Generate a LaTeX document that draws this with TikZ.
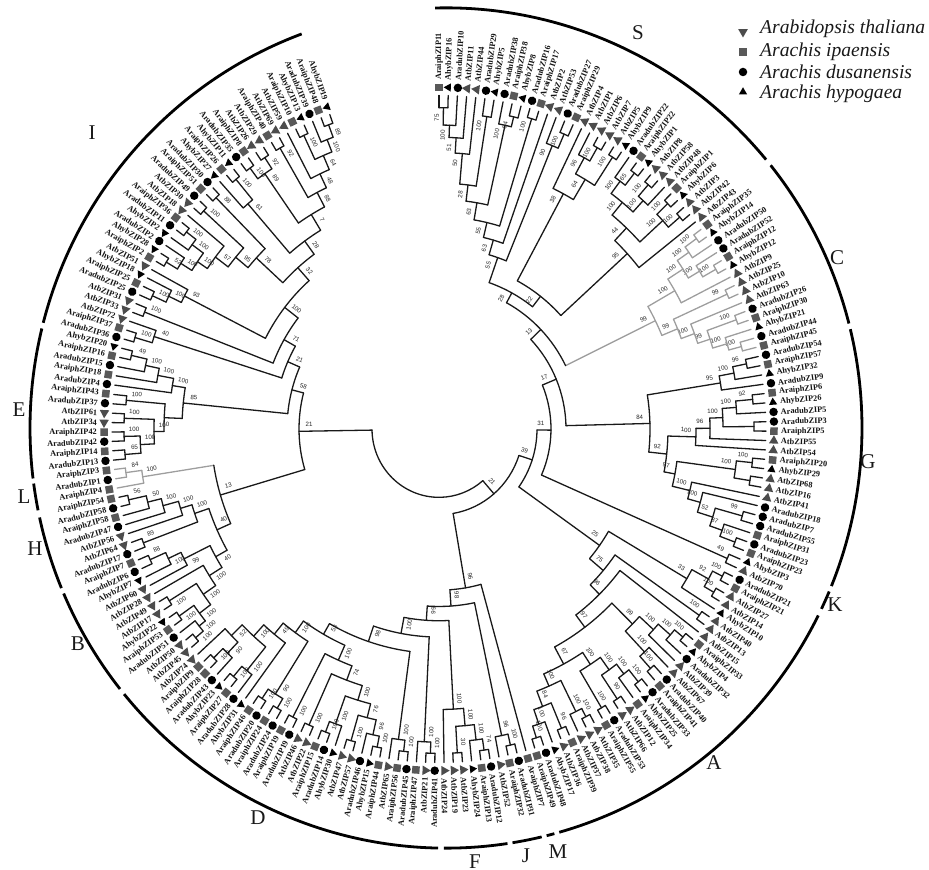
\documentclass[tikz,border=0pt]{standalone}
\usepackage{fontspec}
\setmainfont{Liberation Serif}
\newfontfamily\supfont{Liberation Sans}
\usetikzlibrary{shapes.geometric}

\tikzset{
    treeline/.style={draw=black!90,line width=1.3pt,line cap=round},
    grayline/.style={draw=black!38,line width=1.3pt,line cap=round},
    clbar/.style={draw=black,line width=2.8pt},
    mks/.style={rectangle,fill=black!65,minimum size=7.5pt,inner sep=0pt},
    mkc/.style={circle,fill=black,minimum size=8.5pt,inner sep=0pt},
    mkv/.style={regular polygon,regular polygon sides=3,fill=black!70,minimum size=11pt,inner sep=0pt},
    mkt/.style={regular polygon,regular polygon sides=3,fill=black,minimum size=9.5pt,inner sep=0pt},
    leaftxt/.style={inner sep=0pt,text=black!92,font=\fontsize{8.3}{9}\selectfont\bfseries},
    suptxt/.style={inner sep=0pt,text=black!85,font=\supfont\fontsize{6.2}{7}\selectfont},
    cltxt/.style={inner sep=0pt,text=black!90,font=\fontsize{21}{22}\selectfont},
    legtxt/.style={inner sep=0pt,anchor=west,text=black!90,font=\fontsize{19.6}{21}\selectfont\itshape}
}

\newcommand{\clade}[6][treeline]{%
    \pgfmathsetmacro{\angA}{\csname ang#3\endcsname}%
    \pgfmathsetmacro{\angB}{\csname ang#4\endcsname}%
    \pgfmathsetmacro{\angM}{(\angA+\angB)/2}%
    \expandafter\xdef\csname ang#2\endcsname{\angM}%
    \expandafter\xdef\csname sty#2\endcsname{#1}%
    \coordinate (l#2) at (\angM:#5);
    \ifcsname sty#3\endcsname\edef\styA{\csname sty#3\endcsname}\else\def\styA{#1}\fi
    \ifcsname sty#4\endcsname\edef\styB{\csname sty#4\endcsname}\else\def\styB{#1}\fi
    \expandafter\draw\expandafter[\styA] (l#3) -- (\angA:#5);
    \expandafter\draw\expandafter[\styB] (l#4) -- (\angB:#5);
    \draw[#1] (\angA:#5) arc[start angle=\angA,end angle=\angB,radius=#5pt];
    \def\suptest{#6}%
    \ifx\suptest\empty\else
        \ifdim\angM pt<-155pt
            \pgfmathsetmacro{\angL}{\angM-6.5/(#5-10)*57.3}%
        \else
            \pgfmathsetmacro{\angL}{\angM+6.5/(#5-10)*57.3}%
        \fi
        \ifdim\angM pt<-90pt
            \pgfmathsetmacro{\angR}{\angM+180}%
        \else
            \pgfmathsetmacro{\angR}{\angM}%
        \fi
        \node[suptxt,rotate=\angR] (s#2) at (\angL:#5-10) {#6};
    \fi
}

\begin{document}
\begin{tikzpicture}[x=1pt,y=1pt]
    \useasboundingbox (0,0) rectangle (929,870);

    \begin{scope}[shift={(446,442)},yscale=1.01]
        \foreach \st/\en in {91.5/39.7,38.7/14.4,13.6/-22.1,-22.9/-25.5,-26.5/-74.2,-74.9/-76,-76.7/-80.8,-81.5/-90.3,-91.1/-140.7,-141.6/-156.8,-157.6/-167.7,-168.7/-172.4,-173.1/-193.7,-194.5/-249.7}{
            \draw[clbar] (\st:416) arc[start angle=\st,end angle=\en,radius=416pt];
        }
    \end{scope}

    \foreach \nm/\x/\y in {S/638/837,C/837/612,G/868/408,K/835/265,A/714/107,M/558/18,J/526/14,F/475/8,D/258/52,B/78/226,H/35/321,L/24/373,E/19/460,I/92/737}{
        \node[cltxt] (cl\nm) at (\x,\y) {\nm};
    }

    \node[mkv,rotate=180] (legv) at (743,838) {};
    \node[mks] (legs) at (743,818) {};
    \node[mkc] (legc) at (743,798) {};
    \node[mkt] (legt) at (743,778) {};
    \node[legtxt] (legva) at (760,841) {Arabidopsis thaliana};
    \node[legtxt] (legsa) at (760,818) {Arachis ipaensis};
    \node[legtxt] (legca) at (760,798) {Arachis dusanensis};
    \node[legtxt] (legta) at (760,776) {Arachis hypogaea};

    \begin{scope}[shift={(439,441)},yscale=1.02]
        \foreach \nm/\kd [count=\i] in {AraiphZIP11/s,AhybZIP16/t,AradubZIP10/c,AtbZIP11/v,AtbZIP44/v,AradubZIP29/c,AhybZIP5/t,AradubZIP38/c,AraiphZIP38/s,AhybZIP8/t,
            AradubZIP16/c,AraiphZIP17/s,AtbZIP2/v,AtbZIP53/v,AradubZIP27/c,AraiphZIP29/s,AtbZIP4/v,AtbZIP1/v,AtbZIP6/v,AtbZIP7/v,
            AtbZIP5/v,AhybZIP9/t,AradubZIP22/c,AraiphZIP22/s,AhybZIP1/t,AtbZIP8/v,AtbZIP58/v,AtbZIP48/v,AraiphZIP1/s,AhybZIP6/t,
            AtbZIP3/v,AtbZIP42/v,AtbZIP43/v,AraiphZIP35/s,AhybZIP14/t,AradubZIP50/c,AradubZIP52/c,AraiphZIP12/s,AhybZIP12/t,AtbZIP9/v,
            AtbZIP25/v,AtbZIP10/v,AtbZIP63/v,AradubZIP26/c,AraiphZIP30/s,AhybZIP21/t,AradubZIP44/c,AraiphZIP45/s,AradubZIP54/c,AraiphZIP57/s,
            AhybZIP32/t,AradubZIP9/c,AraiphZIP6/s,AhybZIP26/t,AradubZIP5/c,AradubZIP3/c,AraiphZIP5/s,AtbZIP55/v,AtbZIP54/v,AraiphZIP20/s,
            AhybZIP29/t,AtbZIP68/v,AtbZIP16/v,AtbZIP41/v,AradubZIP18/c,AradubZIP7/c,AradubZIP55/c,AraiphZIP31/s,AradubZIP23/c,AraiphZIP23/s,
            AhybZIP3/t,AtbZIP70/v,AradubZIP21/c,AraiphZIP21/s,AtbZIP27/v,AtbZIP14/v,AhybZIP10/t,AtbZIP40/v,AtbZIP13/v,AtbZIP15/v,
            AraiphZIP33/s,AhybZIP4/t,AradubZIP32/c,AtbZIP39/v,AtbZIP67/v,AradubZIP40/c,AraiphZIP41/s,AradubZIP33/c,AhybZIP25/t,AraiphZIP34/s,
            AtbZIP12/v,AtbZIP66/v,AradubZIP53/c,AraiphZIP55/s,AtbZIP35/v,AtbZIP38/v,AtbZIP37/v,AraiphZIP39/s,AtbZIP36/v,AhybZIP17/t,
            AradubZIP48/c,AraiphZIP49/s,AraiphZIP7/s,AradubZIP31/c,AraiphZIP32/s,AtbZIP52/v,AradubZIP12/c,AraiphZIP13/s,AhybZIP24/t,AtbZIP23/v,
            AtbZIP19/v,AtbZIP24/v,AradubZIP41/c,AtbZIP21/v,AraiphZIP47/s,AradubZIP45/c,AraiphZIP56/s,AtbZIP65/v,AraiphZIP44/s,AhybZIP15/t,
            AradubZIP46/c,AtbZIP57/v,AtbZIP47/v,AhybZIP30/t,AradubZIP14/c,AraiphZIP15/s,AtbZIP22/v,AtbZIP46/v,AradubZIP19/c,AraiphZIP19/s,
            AradubZIP24/c,AraiphZIP24/s,AradubZIP20/c,AraiphZIP46/s,AhybZIP31/t,AradubZIP28/c,AraiphZIP27/s,AhybZIP23/t,AradubZIP43/c,AraiphZIP28/s,
            AraiphZIP9/s,AtbZIP74/v,AtbZIP45/v,AtbZIP50/v,AradubZIP51/c,AraiphZIP53/s,AhybZIP22/t,AtbZIP17/v,AtbZIP49/v,AtbZIP28/v,
            AtbZIP60/v,AhybZIP7/t,AradubZIP6/c,AraiphZIP7/s,AradubZIP17/c,AtbZIP64/v,AtbZIP56/v,AradubZIP47/c,AraiphZIP58/s,AradubZIP58/c,
            AraiphZIP54/s,AraiphZIP4/s,AradubZIP1/c,AraiphZIP3/s,AradubZIP13/c,AraiphZIP14/s,AradubZIP42/c,AraiphZIP42/s,AtbZIP34/v,AtbZIP61/v,
            AradubZIP37/c,AraiphZIP43/s,AradubZIP4/c,AraiphZIP18/s,AradubZIP15/c,AraiphZIP16/s,AhybZIP20/t,AradubZIP36/c,AraiphZIP37/s,AtbZIP72/v,
            AtbZIP33/v,AtbZIP31/v,AradubZIP25/c,AraiphZIP25/s,AhybZIP18/t,AtbZIP51/v,AraiphZIP2/s,AhybZIP28/t,AradubZIP2/c,AhybZIP2/t,
            AradubZIP11/c,AraiphZIP36/s,AtbZIP18/v,AtbZIP30/v,AradubZIP49/c,AraiphZIP51/s,AradubZIP30/c,AhybZIP27/t,AraiphZIP26/s,AhybZIP11/t,
            AradubZIP35/c,AraiphZIP8/s,AtbZIP26/v,AtbZIP29/v,AraiphZIP40/s,AtbZIP69/v,AtbZIP59/v,AraiphZIP10/s,AhybZIP13/t,AradubZIP39/c,
            AraiphZIP48/s,AhybZIP19/t}{
            \pgfmathsetmacro{\ang}{90-1.6137*(\i-1)}
            \expandafter\xdef\csname ang\i\endcsname{\ang}
            \coordinate (l\i) at (\ang:327);
            \node[mk\kd,rotate=\ang] (m\i) at (\ang:335) {};
            \ifdim\ang pt<-90pt
                \pgfmathsetmacro{\angT}{\ang+180}
                \node[leaftxt,rotate=\angT,anchor=east] (t\i) at (\ang:342) {\nm};
            \else
                \node[leaftxt,rotate=\ang,anchor=west] (t\i) at (\ang:342) {\nm};
            \fi
        }

        \clade{sa}{1}{2}{315}{75}
        \clade{sb}{sa}{3}{298}{100}
        \clade{sc}{sb}{4}{286}{51}
        \clade{sd}{sc}{5}{271}{50}
        \clade{se}{6}{7}{310}{100}
        \clade{sf}{sd}{se}{241}{28}
        \clade{sg}{9}{10}{315}{64}
        \clade{sh}{8}{sg}{305}{100}
        \clade{si}{sf}{sh}{225}{63}
        \clade{sj}{11}{12}{318}{100}
        \clade{sk}{si}{sj}{208}{55}
        \clade{sl}{sk}{13}{193}{63}
        \clade{sm}{15}{16}{315}{100}
        \clade{sn}{14}{sm}{300}{90}
        \clade{so}{sl}{sn}{178}{55}
        \clade{sp}{19}{20}{318}{100}
        \clade{sq}{18}{sp}{303}{96}
        \clade{sr}{21}{22}{318}{100}
        \clade{ss}{sq}{sr}{285}{64}
        \clade{st}{17}{ss}{262}{38}
        \clade{su}{24}{25}{318}{65}
        \clade{sv}{23}{su}{303}{100}
        \clade{sw}{26}{27}{318}{100}
        \clade{sx}{sw}{28}{303}{100}
        \clade{sy}{sv}{sx}{288}{100}
        \clade{sz}{29}{30}{318}{100}
        \clade{ta}{31}{32}{318}{100}
        \clade{tb}{sz}{ta}{303}{100}
        \clade{tc}{sy}{tb}{272}{44}
        \clade{td}{tc}{33}{255}{95}
        \clade{te}{st}{td}{165}{22}
        \clade{tf}{so}{te}{152}{28}

        \clade[grayline]{ca}{34}{35}{318}{100}
        \clade[grayline]{cb}{ca}{36}{304}{100}
        \clade[grayline]{cc}{38}{39}{318}{100}
        \clade[grayline]{cd}{37}{cc}{303}{100}
        \clade[grayline]{ce}{cb}{cd}{290}{100}
        \clade[grayline]{cf}{ce}{40}{272}{100}
        \clade[grayline]{cg}{41}{42}{317}{99}
        \clade[grayline]{ch}{44}{45}{316}{100}
        \clade[grayline]{ci}{47}{48}{313}{100}
        \clade[grayline]{cj}{46}{ci}{300}{100}
        \clade[grayline]{ck}{ch}{cj}{285}{99}
        \clade[grayline]{cl}{43}{ck}{272}{100}
        \clade[grayline]{cm}{cg}{cl}{258}{99}
        \clade[grayline]{cn}{cf}{cm}{241}{99}
        \clade{ra}{tf}{cn}{141}{13}

        \clade{ga}{49}{50}{314}{96}
        \clade{gb}{ga}{51}{300}{100}
        \clade{gc}{gb}{52}{285}{95}
        \clade{gd}{53}{54}{315}{92}
        \clade{ge}{gd}{55}{298}{100}
        \clade{gf}{56}{57}{315}{}
        \clade{gg}{ge}{gf}{284}{100}
        \clade{gh}{gg}{58}{271}{96}
        \clade{gi}{gh}{59}{257}{100}
        \clade{gj}{60}{61}{315}{100}
        \clade{gk}{62}{63}{315}{}
        \clade{gl}{gj}{gk}{299}{100}
        \clade{gm}{66}{67}{315}{99}
        \clade{gn}{69}{70}{316}{100}
        \clade{go}{68}{gn}{300}{87}
        \clade{gp}{gm}{go}{287}{52}
        \clade{gq}{65}{gp}{271}{100}
        \clade{gr}{64}{gq}{258}{100}
        \clade{gs}{gl}{gr}{240}{97}
        \clade{gt}{gi}{gs}{229}{92}
        \clade{gu}{gc}{gt}{211}{84}
        \clade{rb}{ra}{gu}{127}{17}

        \clade{ka}{71}{72}{315}{49}
        \clade{rc}{rb}{ka}{112}{31}

        \clade{aa}{73}{74}{318}{100}
        \clade{ab}{75}{76}{318}{100}
        \clade{ac}{aa}{ab}{307}{92}
        \clade{ad}{ac}{77}{288}{33}
        \clade{ae}{78}{79}{318}{100}
        \clade{af}{81}{82}{318}{100}
        \clade{ag}{af}{83}{307}{100}
        \clade{ah}{ag}{84}{291}{100}
        \clade{ai}{86}{87}{316}{100}
        \clade{aj}{85}{ai}{300}{100}
        \clade{ak}{ah}{aj}{272}{99}
        \clade{al}{88}{89}{318}{100}
        \clade{am}{al}{90}{303}{100}
        \clade{an}{91}{92}{319}{90}
        \clade{ao}{am}{an}{291}{100}
        \clade{ap}{93}{94}{318}{100}
        \clade{aq}{ao}{ap}{276}{100}
        \clade{ar}{95}{96}{318}{100}
        \clade{as}{ar}{97}{309}{100}
        \clade{at}{98}{99}{318}{96}
        \clade{au}{101}{102}{318}{100}
        \clade{av}{100}{au}{306}{100}
        \clade{aw}{at}{av}{291}{84}
        \clade{ax}{as}{aw}{275}{100}
        \clade{ay}{aq}{ax}{262}{67}
        \clade{az}{ak}{ay}{243}{97}
        \clade{ba}{80}{az}{228}{96}
        \clade{bb}{ae}{ba}{215}{75}
        \clade{bc}{ad}{bb}{197}{25}
        \clade{rd}{bc}{rc}{98}{39}

        \clade{fa}{107}{108}{318}{74}
        \clade{fb}{109}{fa}{307}{100}
        \clade{fc}{110}{111}{318}{30}
        \clade{fd}{fc}{fb}{292}{100}
        \clade{fe}{fd}{112}{275}{100}
        \clade{ja}{104}{105}{318}{100}
        \clade{jb}{ja}{106}{307}{96}
        \clade{da}{113}{114}{318}{100}
        \clade{db}{115}{da}{307}{100}
        \clade{dc}{116}{117}{318}{100}
        \clade{dd}{118}{dc}{307}{100}
        \clade{de}{119}{120}{318}{100}
        \clade{df}{121}{de}{307}{96}
        \clade{dg}{122}{123}{318}{100}
        \clade{dh}{dg}{df}{292}{76}
        \clade{di}{125}{126}{318}{100}
        \clade{dj}{di}{124}{307}{100}
        \clade{dk}{dj}{dh}{278}{100}
        \clade{dl}{127}{128}{318}{100}
        \clade{dm}{dl}{dk}{263}{74}
        \clade{dn}{129}{130}{318}{100}
        \clade{do}{dn}{dm}{248}{100}
        \clade{dp}{133}{134}{318}{100}
        \clade{dq}{131}{132}{318}{100}
        \clade{dr}{dp}{dq}{307}{90}
        \clade{ds}{137}{138}{318}{100}
        \clade{dt}{136}{ds}{305}{100}
        \clade{du}{140}{141}{318}{100}
        \clade{dv}{139}{du}{305}{90}
        \clade{dw}{142}{dv}{290}{52}
        \clade{dx}{dw}{dt}{275}{100}
        \clade{dy}{dx}{135}{260}{49}
        \clade{dz}{dy}{dr}{246}{100}
        \clade{ea}{dz}{do}{232}{53}
        \clade{eb}{ea}{dd}{220}{98}
        \clade{ec}{eb}{db}{204}{100}
        \clade{ed}{ec}{fe}{188}{99}
        \clade{ee}{ed}{jb}{174}{98}
        \clade{ef}{ee}{103}{158}{96}
        \clade{re}{ef}{rd}{84}{21}

        \clade{ha}{176}{177}{316}{49}
        \clade{hb}{ha}{175}{300}{100}
        \clade{hc}{hb}{174}{286}{100}
        \clade{hd}{hc}{173}{270}{100}
        \clade{he}{171}{172}{314}{100}
        \clade{hf}{169}{170}{315}{100}
        \clade{hg}{167}{168}{315}{100}
        \clade{hh}{165}{166}{315}{65}
        \clade{hi}{hg}{hh}{299}{100}
        \clade{hj}{hf}{hi}{285}{100}
        \clade{hk}{he}{hj}{275}{}
        \clade{hl}{hd}{hk}{257}{85}
        \clade{ia}{178}{179}{317}{100}
        \clade{ib}{ia}{180}{299}{40}
        \clade{ic}{181}{182}{316}{100}
        \clade{id}{183}{184}{315}{100}
        \clade{ie}{185}{id}{300}{100}
        \clade{if}{186}{ie}{286}{93}
        \clade{ig}{187}{188}{318}{52}
        \clade{ih}{ig}{189}{305}{100}
        \clade{ij}{191}{192}{318}{100}
        \clade{ik}{190}{ij}{306}{100}
        \clade{il}{ih}{ik}{292}{100}
        \clade{im}{il}{193}{280}{57}
        \clade{in}{194}{195}{318}{100}
        \clade{io}{im}{in}{264}{95}
        \clade{ip}{196}{197}{318}{88}
        \clade{iq}{io}{ip}{248}{78}
        \clade{ir}{199}{200}{318}{100}
        \clade{it}{198}{ir}{292}{61}
        \clade{iu}{203}{204}{318}{92}
        \clade{iv}{201}{202}{318}{100}
        \clade{iw}{iu}{iv}{305}{89}
        \clade{ix}{205}{206}{318}{92}
        \clade{iy}{211}{212}{318}{89}
        \clade{iz}{210}{iy}{305}{100}
        \clade{mb}{208}{209}{318}{100}
        \clade{mc}{mb}{iz}{292}{64}
        \clade{md}{207}{mc}{277}{48}
        \clade{me}{ix}{md}{262}{88}
        \clade{mf}{iw}{me}{246}{7}
        \clade{mg}{it}{mf}{228}{28}
        \clade{mh}{iq}{mg}{212}{32}
        \clade{mi}{mh}{if}{195}{100}
        \clade{mj}{mi}{ic}{178}{71}
        \clade{mk}{mj}{ib}{165}{21}
        \clade{ml}{mk}{hl}{152}{58}

        \clade{na}{160}{161}{318}{56}
        \clade{nb}{na}{159}{300}{50}
        \clade{nc}{nb}{158}{286}{100}
        \clade{nd}{nc}{157}{270}{100}
        \clade{ne}{155}{156}{316}{89}
        \clade{nf}{nd}{ne}{258}{100}
        \clade{ng}{153}{154}{316}{88}
        \clade{nh}{ng}{152}{299}{100}
        \clade{ni}{nh}{151}{285}{99}
        \clade{nj}{146}{147}{318}{100}
        \clade{nk}{143}{144}{318}{100}
        \clade{nl}{145}{nk}{308}{100}
        \clade{nm}{nj}{nl}{300}{100}
        \clade{nn}{148}{149}{318}{100}
        \clade{no}{nn}{nm}{286}{100}
        \clade{np}{150}{no}{271}{100}
        \clade{nq}{ni}{np}{256}{40}
        \clade{nr}{nf}{nq}{243}{40}
        \clade[grayline]{la}{163}{164}{316}{84}
        \clade[grayline]{lb}{la}{162}{300}{100}
        \clade{ns}{lb}{nr}{228}{13}
        \clade{nt}{ml}{ns}{140}{21}
        \clade{root}{nt}{re}{67}{}
    \end{scope}
\end{tikzpicture}
\end{document}
